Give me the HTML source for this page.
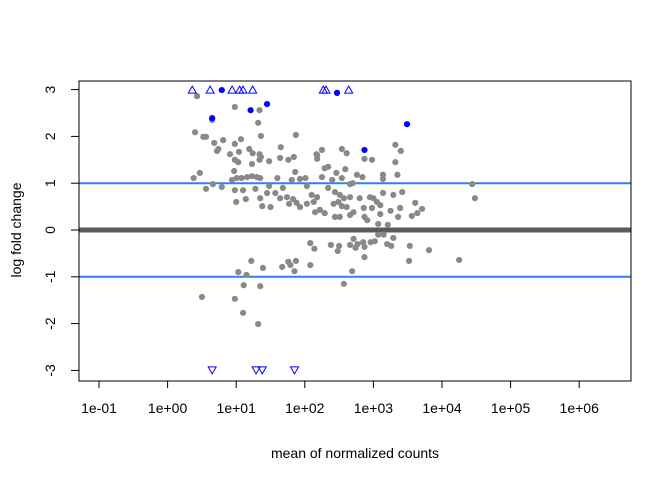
<!DOCTYPE html>
<html><head><meta charset="utf-8"><style>
html,body{margin:0;padding:0;background:#fff;}
svg{display:block;font-family:"Liberation Sans",Arial,sans-serif;}
</style></head><body>
<svg id="chart" width="672" height="480" viewBox="0 0 672 480" xmlns="http://www.w3.org/2000/svg">
<g id="grid"></g>
<g id="marks"></g>
<g id="axes"></g>
</svg>
<script>
// log10(mean of normalized counts) and log fold change, non-significant genes
const grayLogMean = [.50,.98,1.10,1.32,1.11,1.35,1.03,1.15,1.22,1.39,1.67,1.76,1.79,1.87,1.85,2.08,2.14,2.08,2.38,2.50,2.48,2.66,2.71,2.74,2.77,2.85,2.87,2.87,2.69,2.57,2.96,3.02,3.20,3.26,3.29,3.53,3.52,3.81,4.25,
.43,.40,.52,.56,.68,.81,.74,.72,.65,.98,1.34,1.32,1.36,1.07,.98,.91,1.04,.98,1.03,1.19,1.24,1.34,1.36,1.34,1.48,1.64,1.65,1.76,1.84,1.87,1.23,.97,.47,.38,.56,.66,.79,.94,1.01,1.08,1.16,1.23,1.30,1.35,.98,1.10,1.28,1.00,1.14,1.35,1.38,1.50,1.45,1.57,1.48,1.60,1.68,1.64,1.74,1.81,1.86,1.93,2.01,2.03,1.77,1.83,1.88,1.93,2.03,2.10,2.13,2.18,2.15,2.22,2.29,2.34,2.40,2.25,2.29,2.34,2.18,2.25,2.18,2.46,2.54,2.61,2.59,2.54,2.44,2.51,2.57,2.49,2.42,2.54,2.61,2.66,2.70,2.66,2.76,2.84,2.80,2.86,2.71,2.44,2.51,2.66,2.87,2.98,2.87,2.91,2.95,3.00,3.05,3.10,2.98,3.14,3.14,3.14,3.29,3.35,3.32,3.32,3.40,3.42,3.39,3.25,3.10,3.07,3.21,3.36,3.56,3.64,3.71,3.61,4.44,4.48,2.17,3.07,3.15];
const grayLfc = [-1.43,-1.47,-1.77,-2.01,-1.18,-1.20,-.90,-.96,-.66,-.81,-.79,-.68,-.75,-.66,-.88,-.28,-.40,-.75,-.32,-.34,-.45,-.32,-.19,-.38,-.30,-.26,-.36,-.58,-.88,-1.15,-.26,-.24,-.30,-.34,-.17,-.34,-.66,-.43,-.64,
2.86,2.09,1.99,1.99,1.86,1.92,1.73,1.69,2.35,2.63,2.56,2.29,2.01,1.94,1.84,1.62,1.67,1.50,1.45,1.73,1.64,1.62,1.56,1.50,1.47,1.54,1.77,1.50,1.56,2.03,1.41,1.26,1.22,1.11,.88,.98,.92,1.07,1.11,1.11,1.13,1.15,1.13,1.11,.85,.85,.88,.60,.66,.68,.51,.49,.79,.79,.94,1.11,.90,.68,.70,1.07,1.24,1.09,1.11,.94,.56,.66,.58,.49,.56,.75,.60,.70,.38,.43,.36,.90,1.07,1.13,1.32,1.35,1.60,1.71,1.52,1.22,1.73,1.64,1.30,1.11,.81,.75,.68,.60,.56,.51,.49,.70,1.00,.98,1.18,1.13,.68,.47,.38,.28,.28,.32,1.52,1.50,.28,.21,.70,.68,.60,.53,.47,1.18,1.09,.79,.75,1.18,1.45,1.82,1.69,.81,.47,.41,.34,.13,.11,.28,.30,.36,.45,.58,.98,.68,1.62,-.10,-.10];
// significant genes within range
const sigLogMean = [.79,.65,1.21,1.45,2.47,2.87,3.49];
const sigLfc = [2.99,2.39,2.56,2.69,2.93,1.71,2.26];
// genes outside y-limits (drawn as triangles at the boundary)
const outLogMean = [.36,.62,.94,1.05,1.10,1.24,2.27,2.31,2.64,.65,1.29,1.38,1.85];
const outLfc = [3.6,3.5,3.8,3.4,3.5,3.6,3.5,3.7,3.4,-3.5,-3.4,-3.6,-3.5];
// genes with ~zero fold change (the dense band)
const zeroLogMean = [-1.3,-1,0,1,2,3,4,5,6,7];
const zeroLfc = [0,0,0,0,0,0,0,0,0,0];
const xTicks = [-1,0,1,2,3,4,5,6];
const xTickLabels = ["1e-01","1e+00","1e+01","1e+02","1e+03","1e+04","1e+05","1e+06"];
const yTicks = [-3,-2,-1,0,1,2,3];
const yTickLabels = ["-3","-2","-1","0","1","2","3"];

const L=79,R=631,T=81,B=381;
const xS = v => 167.6 + v*68.6;
const yS = v => 230 - v*46.8;
const NS="http://www.w3.org/2000/svg";
function mk(tag, attrs, parent){const e=document.createElementNS(NS,tag);for(const k in attrs)e.setAttribute(k,attrs[k]);parent.appendChild(e);return e;}
const marks=document.getElementById('marks'), axes=document.getElementById('axes'), grid=document.getElementById('grid');
const cx = v => Math.max(L, Math.min(R, xS(v)));

[1,-1].forEach(v=>{
  const l=mk('line',{x1:L,x2:R,y1:yS(v),y2:yS(v),stroke:'#2f80f0','stroke-width':2},grid);
  
  
});
let d='';
zeroLogMean.forEach((v,i)=>{d+=(i?'L':'M')+cx(v)+' '+yS(zeroLfc[i]);});
const zb=mk('path',{d:d,stroke:'#5a5a5a','stroke-width':5,fill:'none'},marks);



grayLogMean.forEach((v,i)=>{
  const c=mk('circle',{cx:xS(v),cy:yS(grayLfc[i]),r:3.1,fill:'#898989'},marks);
  
  
});
sigLogMean.forEach((v,i)=>{
  const c=mk('circle',{cx:xS(v),cy:yS(sigLfc[i]),r:3.1,fill:'#0000ff'},marks);
  
  
});
outLogMean.forEach((v,i)=>{
  const up=outLfc[i]>0, x=xS(v), y=yS(up?3:-3);
  const p = up ? `M${x-4} ${y+3.5}L${x+4} ${y+3.5}L${x} ${y-3.5}Z` : `M${x-4} ${y-3.5}L${x+4} ${y-3.5}L${x} ${y+3.5}Z`;
  const t=mk('path',{d:p,fill:'none',stroke:'#0000ff','stroke-width':1},marks);
  
  
});

const box=mk('rect',{x:L,y:T,width:R-L,height:B-T,fill:'none',stroke:'#000','stroke-width':1},axes);



xTicks.forEach((v,i)=>{
  const x=xS(v);
  const tk=mk('line',{x1:x,x2:x,y1:B,y2:B+7,stroke:'#000'},axes);
  
  
  const t=mk('text',{x:x,y:B+32,'text-anchor':'middle','font-size':14},axes);
  t.textContent=xTickLabels[i];
  
  
});
yTicks.forEach((v,i)=>{
  const y=yS(v);
  const tk=mk('line',{x1:L-8,x2:L,y1:y,y2:y,stroke:'#000'},axes);
  
  
  const t=mk('text',{x:0,y:0,'text-anchor':'middle','font-size':14,transform:`translate(55 ${y}) rotate(-90)`},axes);
  t.textContent=yTickLabels[i];
  
  
});
const xt=mk('text',{x:355,y:458,'text-anchor':'middle','font-size':14},axes);
xt.textContent='mean of normalized counts';


const yt=mk('text',{x:0,y:0,'text-anchor':'middle','font-size':14,transform:'translate(21 230) rotate(-90)'},axes);
yt.textContent='log fold change';


</script>
</body></html>
